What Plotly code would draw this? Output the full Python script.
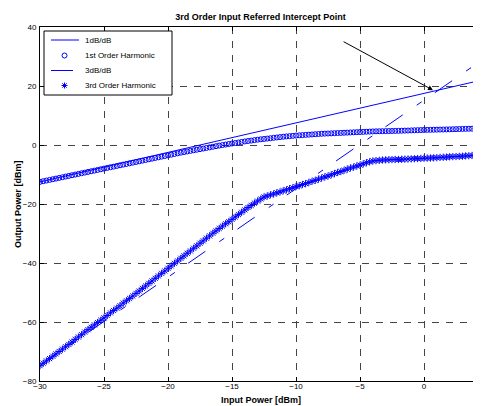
import numpy as np
import plotly.graph_objects as go

# Input power samples (dBm)
x_in = np.arange(-30, 4.51, 0.25)

first_harmonic = [
    -12.5, -12.28, -12.05, -11.83,
    -11.6, -11.38, -11.15, -10.93,
    -10.7, -10.48, -10.25, -10.03,
    -9.8, -9.58, -9.35, -9.13,
    -8.9, -8.68, -8.45, -8.23,
    -8.0, -7.78, -7.55, -7.33,
    -7.1, -6.88, -6.65, -6.43,
    -6.2, -5.98, -5.75, -5.53,
    -5.3, -5.08, -4.85, -4.63,
    -4.4, -4.18, -3.95, -3.73,
    -3.5, -3.28, -3.05, -2.83,
    -2.6, -2.4, -2.2, -2.0,
    -1.8, -1.6, -1.4, -1.2,
    -1.0, -0.8, -0.6, -0.4,
    -0.2, -0.03, 0.15, 0.33,
    0.5, 0.68, 0.85, 1.03,
    1.2, 1.35, 1.5, 1.65,
    1.8, 1.93, 2.05, 2.18,
    2.3, 2.43, 2.55, 2.68,
    2.8, 2.9, 3.0, 3.1,
    3.2, 3.28, 3.35, 3.43,
    3.5, 3.58, 3.65, 3.73,
    3.8, 3.85, 3.9, 3.95,
    4.0, 4.05, 4.1, 4.15,
    4.2, 4.25, 4.3, 4.35,
    4.4, 4.45, 4.5, 4.55,
    4.6, 4.63, 4.65, 4.68,
    4.7, 4.73, 4.75, 4.78,
    4.8, 4.84, 4.88, 4.91,
    4.95, 4.99, 5.03, 5.06,
    5.1, 5.13, 5.15, 5.18,
    5.2, 5.23, 5.25, 5.28,
    5.3, 5.34, 5.38, 5.41,
    5.45, 5.48, 5.5, 5.53,
    5.55, 5.58, 5.6,
]

third_harmonic = [
    -74.8, -74.0, -73.2, -72.4,
    -71.6, -70.8, -70.0, -69.2,
    -68.4, -67.6, -66.8, -65.9,
    -65.1, -64.3, -63.4, -62.6,
    -61.8, -61.0, -60.2, -59.4,
    -58.6, -57.8, -56.9, -56.1,
    -55.3, -54.5, -53.6, -52.8,
    -52.0, -51.2, -50.3, -49.5,
    -48.6, -47.8, -46.9, -46.1,
    -45.2, -44.4, -43.5, -42.7,
    -41.8, -41.0, -40.1, -39.3,
    -38.4, -37.6, -36.7, -35.9,
    -35.0, -34.2, -33.3, -32.5,
    -31.6, -30.8, -29.9, -29.1,
    -28.3, -27.5, -26.7, -26.0,
    -25.2, -24.4, -23.6, -22.8,
    -22.0, -21.2, -20.5, -19.7,
    -19.0, -18.3, -17.6, -17.3,
    -16.9, -16.6, -16.2, -15.9,
    -15.5, -15.2, -14.8, -14.5,
    -14.1, -13.8, -13.4, -13.1,
    -12.7, -12.3, -12.0, -11.6,
    -11.2, -10.8, -10.5, -10.1,
    -9.7, -9.3, -9.0, -8.6,
    -8.2, -7.8, -7.5, -7.1,
    -6.8, -6.4, -6.0, -5.7,
    -5.4, -5.3, -5.2, -5.1,
    -5.05, -5.0, -4.95, -4.9,
    -4.9, -4.85, -4.8, -4.75,
    -4.7, -4.65, -4.6, -4.55,
    -4.5, -4.45, -4.4, -4.35,
    -4.3, -4.2, -4.15, -4.1,
    -4.0, -3.95, -3.9, -3.85,
    -3.8, -3.7, -3.65, -3.55,
    -3.5, -3.45, -3.4,
]

line1_x = [-30, 4.5]
line1_y = [-12.5, 22.0]
line3_x = [-30, 4.5]
line3_y = [-74.8, 28.7]

arrow_tail = (-6.4, 35.3)
arrow_head = (0.7, 18.6)

x_ticks = [-30, -25, -20, -15, -10, -5, 0]
y_ticks = [-80, -60, -40, -20, 0, 20, 40]

legend_names = ["1dB/dB", "1st Order Harmonic", "3dB/dB", "3rd Order Harmonic"]

BLUE = "#0000ff"
FONT = "Liberation Sans, Arial, sans-serif"
DASH3 = "21px,17px,6px,16px"

# The page body has an 8px margin, so the figure is offset inside the window.
OFF = 8
WIN_W, WIN_H = 481, 406
PL, PR, PT, PB = 40, 481, 27, 381          # plot area in window pixels
W, H = WIN_W - OFF, WIN_H - OFF
L, T = PL - OFF, PT - OFF
R = W - (PR - OFF)
B = H - (PB - OFF)
PW, PH = PR - PL, PB - PT


def px(xp):
    return (xp - PL) / PW


def py(yp):
    return 1 - (yp - PT) / PH


fig = go.Figure()
fig.add_trace(go.Scatter(x=line1_x, y=line1_y, mode="lines", name=legend_names[0],
                         line=dict(color=BLUE, width=1)))
fig.add_trace(go.Scatter(x=x_in, y=first_harmonic, mode="markers", name=legend_names[1],
                         marker=dict(symbol="circle-open", size=5, color=BLUE,
                                     line=dict(width=1, color=BLUE))))
fig.add_trace(go.Scatter(x=line3_x, y=line3_y, mode="lines", name=legend_names[2],
                         line=dict(color=BLUE, width=1, dash=DASH3)))
fig.add_trace(go.Scatter(x=x_in, y=third_harmonic, mode="markers", name=legend_names[3],
                         marker=dict(symbol="asterisk-open", size=6, color=BLUE,
                                     line=dict(width=1, color=BLUE))))

fig.add_annotation(x=arrow_head[0], y=arrow_head[1], ax=arrow_tail[0], ay=arrow_tail[1],
                   xref="x", yref="y", axref="x", ayref="y", text="", showarrow=True,
                   arrowhead=2, arrowsize=1, arrowwidth=1, arrowcolor="black")

# ---- hand-built legend (box, samples, labels), all drawn above the grid ----
leg_rows = [40, 55.5, 70.5, 85.5]
shapes = []
shapes.append(dict(type="rect", xref="paper", yref="paper",
                   x0=px(44), x1=px(172), y0=py(95), y1=py(31),
                   line=dict(color="black", width=1), fillcolor="white", layer="above"))
shapes.append(dict(type="line", xref="paper", yref="paper",
                   x0=px(51), x1=px(79), y0=py(leg_rows[0]), y1=py(leg_rows[0]),
                   line=dict(color=BLUE, width=1), layer="above"))
shapes.append(dict(type="line", xref="paper", yref="paper",
                   x0=px(51), x1=px(73), y0=py(leg_rows[2]), y1=py(leg_rows[2]),
                   line=dict(color=BLUE, width=1), layer="above"))
mx = 64.5
shapes.append(dict(type="circle", xref="paper", yref="paper",
                   x0=px(mx - 2.5), x1=px(mx + 2.5),
                   y0=py(leg_rows[1] + 2.5), y1=py(leg_rows[1] - 2.5),
                   line=dict(color=BLUE, width=1), layer="above"))
r3 = leg_rows[3]
for dx0, dy0, dx1, dy1 in [(-3, 0, 3, 0), (0, -3, 0, 3), (-2.2, -2.2, 2.2, 2.2), (-2.2, 2.2, 2.2, -2.2)]:
    shapes.append(dict(type="line", xref="paper", yref="paper",
                       x0=px(mx + dx0), x1=px(mx + dx1),
                       y0=py(r3 + dy0), y1=py(r3 + dy1),
                       line=dict(color=BLUE, width=1), layer="above"))
for name, row in zip(legend_names, leg_rows):
    fig.add_annotation(x=px(83), y=py(row), xref="paper", yref="paper", text=name,
                       showarrow=False, xanchor="left", yanchor="middle",
                       font=dict(size=8, family=FONT, color="black"))

# ---- axis titles ----
fig.add_annotation(x=0.5, y=py(400), xref="paper", yref="paper",
                   text="<b>Input Power [dBm]</b>", showarrow=False,
                   xanchor="center", yanchor="middle",
                   font=dict(size=9, family=FONT, color="black"))
fig.add_annotation(x=px(18), y=0.5, xref="paper", yref="paper",
                   text="<b>Output Power [dBm]</b>", showarrow=False, textangle=-90,
                   xanchor="center", yanchor="middle",
                   font=dict(size=9, family=FONT, color="black"))

axis_common = dict(
    showline=True, linecolor="black", linewidth=1,
    ticks="inside", ticklen=4, tickcolor="black",
    showgrid=True, gridcolor="#444444", gridwidth=1, griddash="7px,7px",
    zeroline=False, tickfont=dict(size=8, color="black", family=FONT),
    automargin=False,
)

fig.update_layout(
    width=W, height=H,
    margin=dict(l=L, r=R, t=T, b=B, autoexpand=False),
    paper_bgcolor="white", plot_bgcolor="white",
    font=dict(family=FONT, color="black"),
    title=dict(text="<b>3rd Order Input Referred Intercept Point</b>",
               x=(L + W - R) / 2 / W, xanchor="center",
               y=1 - (17 - OFF) / H, yanchor="middle", yref="container", automargin=False,
               font=dict(size=9, family=FONT, color="black")),
    showlegend=False,
    shapes=shapes,
    xaxis=dict(range=[-30, 4.45], tickvals=x_ticks, mirror="ticks",
               ticklabelstandoff=-3, **axis_common),
    yaxis=dict(range=[-80, 40], tickvals=y_ticks, ticklabelstandoff=1, **axis_common),
)

fig.write_html("out.html")
